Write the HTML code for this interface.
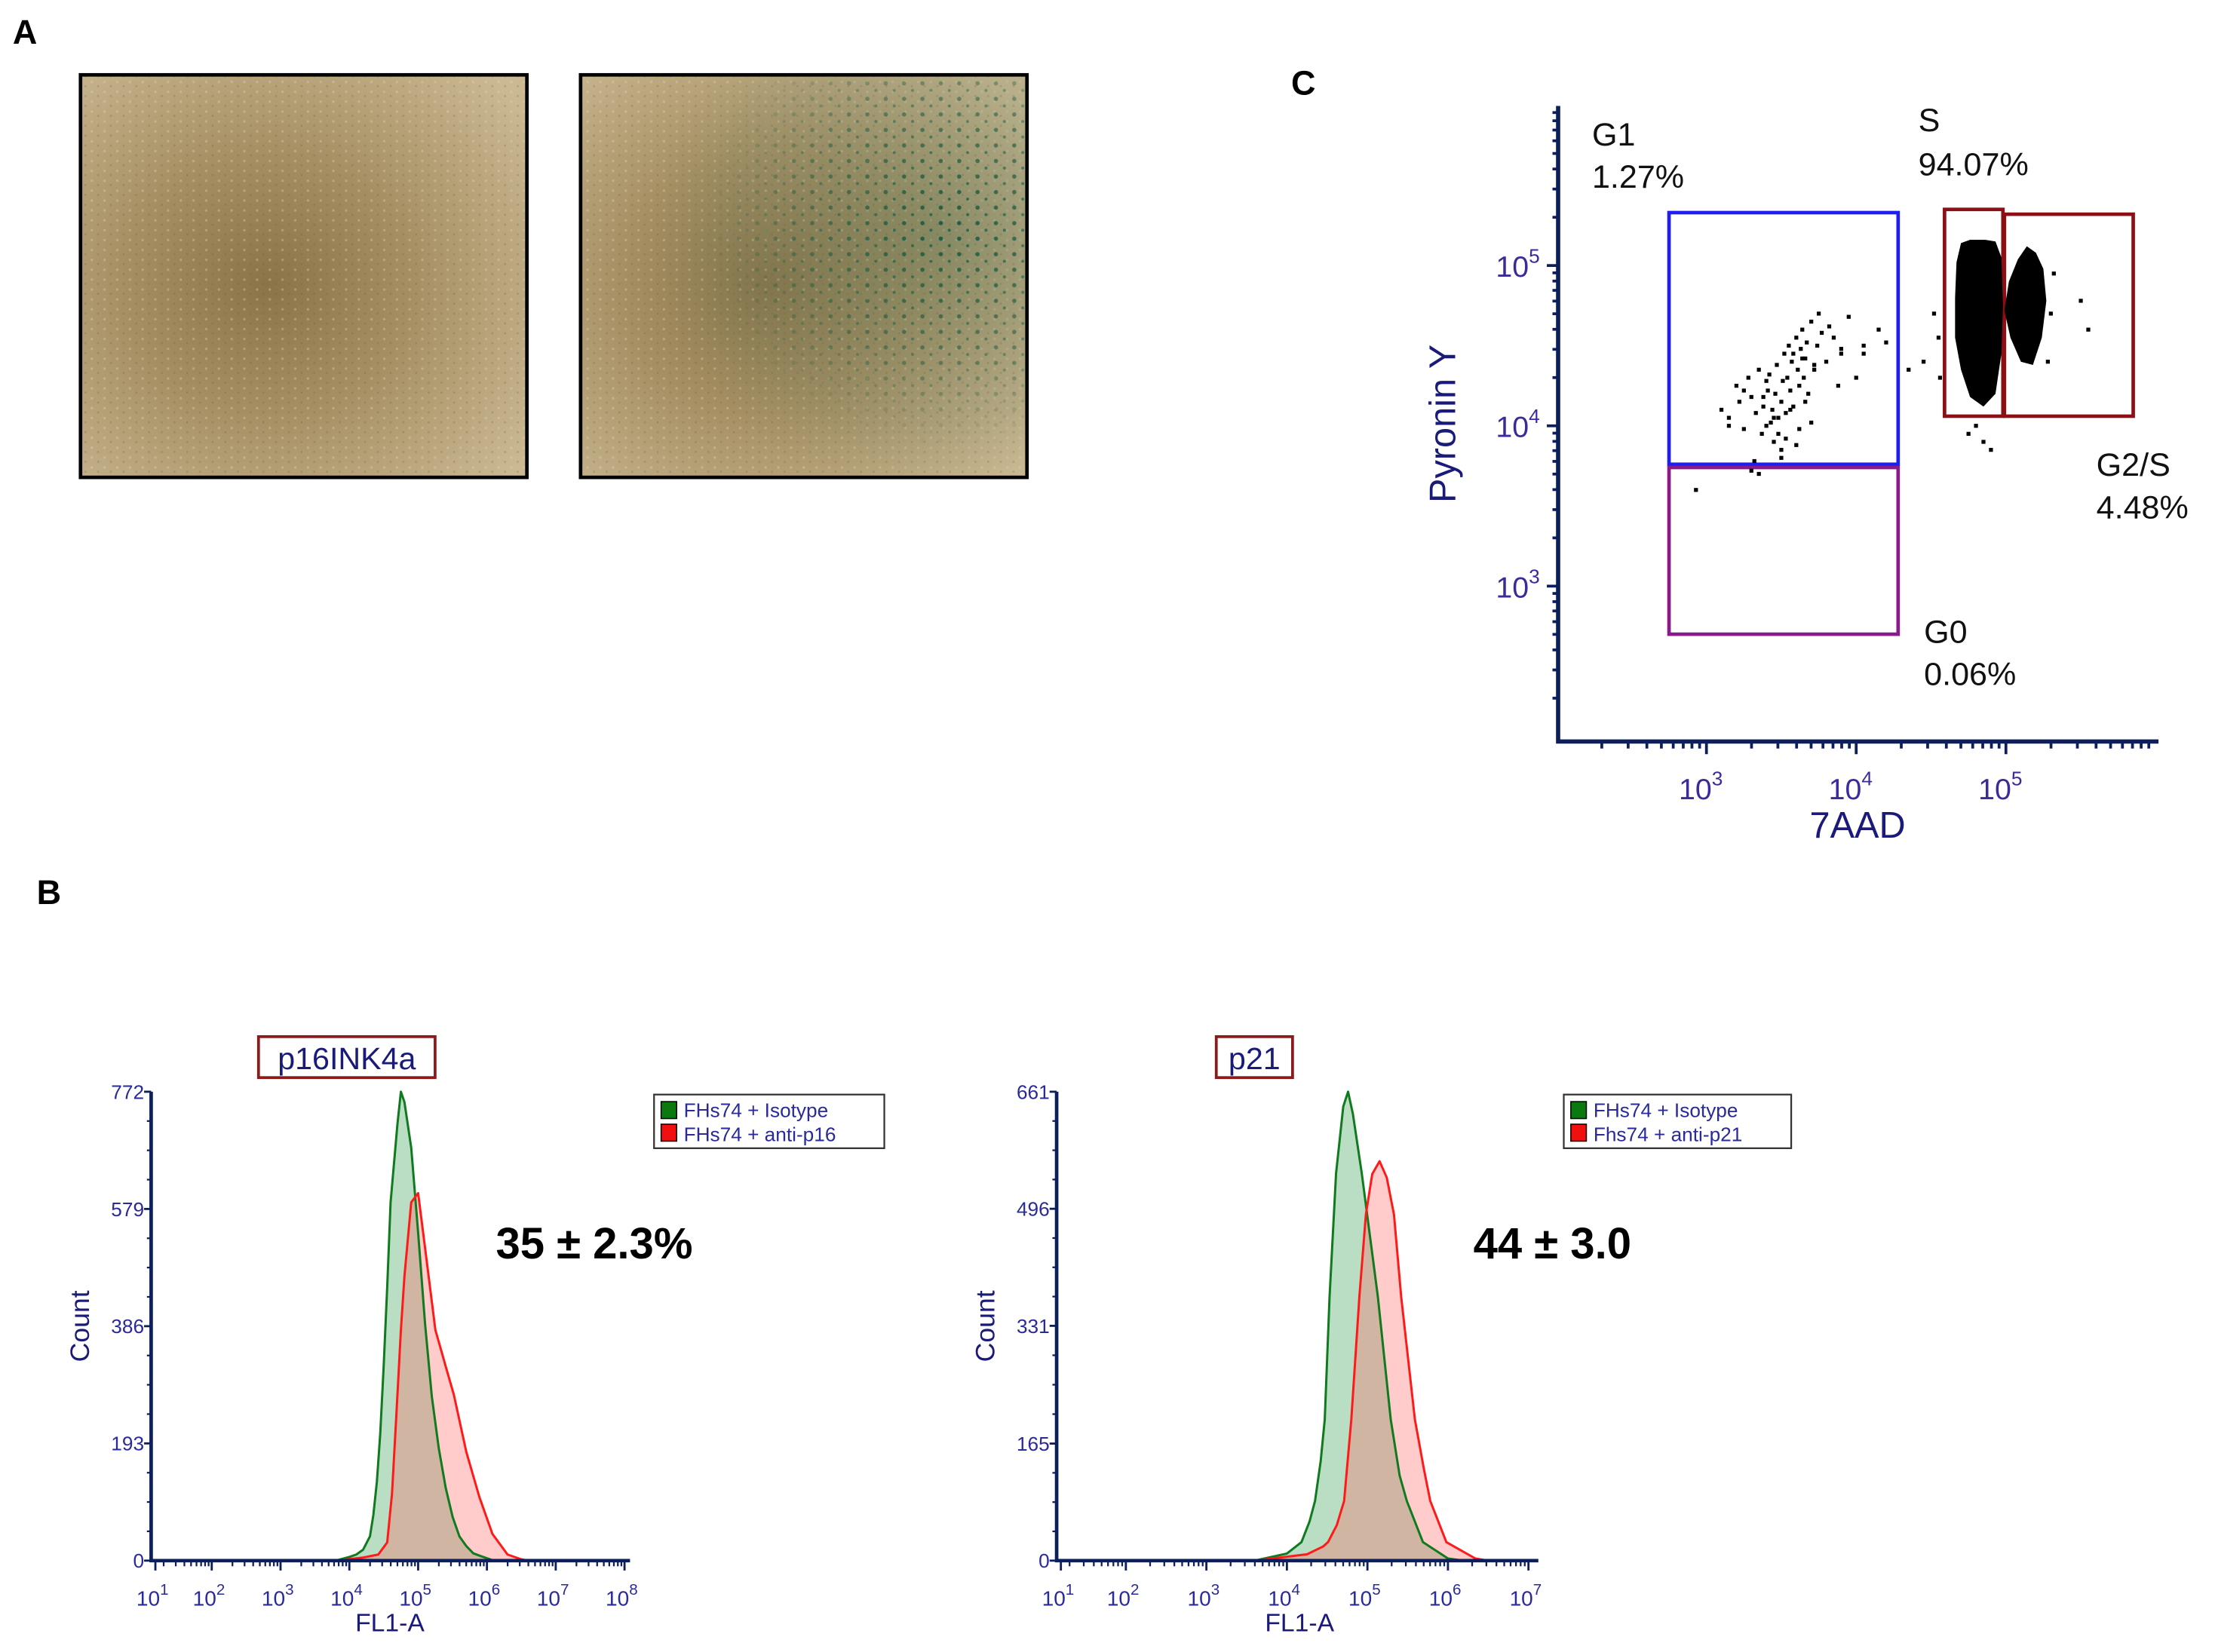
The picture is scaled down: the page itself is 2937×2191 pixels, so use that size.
<!DOCTYPE html>
<html><head><meta charset="utf-8">
<style>
html,body{margin:0;padding:0;background:#fff;}
svg{display:block;}
text{font-family:"Liberation Sans",sans-serif;}
</style></head>
<body>
<svg id="fig" width="2937" height="2191" viewBox="0 0 1568 1169.7" preserveAspectRatio="none" xmlns="http://www.w3.org/2000/svg">
<defs>
<radialGradient id="photoGrad" cx="0.42" cy="0.52" r="0.72">
<stop offset="0" stop-color="#8a7448"/><stop offset="0.45" stop-color="#a68f63"/><stop offset="1" stop-color="#cbb993"/>
</radialGradient>
<radialGradient id="greenGrad" cx="0.8" cy="0.4" r="0.65">
<stop offset="0" stop-color="#3e6e50" stop-opacity="0.35"/><stop offset="0.7" stop-color="#5d7f62" stop-opacity="0.15"/><stop offset="1" stop-color="#6b8a6a" stop-opacity="0"/>
</radialGradient>
<pattern id="cells" width="9" height="7" patternUnits="userSpaceOnUse">
<circle cx="2" cy="2" r="0.9" fill="#e3d6b6" opacity="0.35"/><circle cx="6.5" cy="5" r="0.8" fill="#6e5c38" opacity="0.25"/>
</pattern>
<pattern id="speck" width="13" height="11" patternUnits="userSpaceOnUse">
<circle cx="3" cy="4" r="1.5" fill="#1a5a40"/><circle cx="9" cy="9" r="1.1" fill="#236448"/>
</pattern>
<radialGradient id="speckMask" cx="0.82" cy="0.38" r="0.55">
<stop offset="0" stop-color="#fff" stop-opacity="0.95"/><stop offset="0.6" stop-color="#fff" stop-opacity="0.5"/><stop offset="1" stop-color="#fff" stop-opacity="0"/>
</radialGradient>
<mask id="m2"><rect x="411" y="53" width="316" height="285" fill="url(#speckMask)"/></mask>
</defs>

<text x="9" y="31" font-size="24" font-weight="bold">A</text>
<text x="26" y="640" font-size="24" font-weight="bold">B</text>
<text x="914" y="67" font-size="24" font-weight="bold">C</text>

<g>
<rect x="57" y="53" width="316" height="285" fill="url(#photoGrad)"/>
<rect x="57" y="53" width="316" height="285" fill="url(#cells)"/>
<rect x="57" y="53" width="316" height="285" fill="none" stroke="#000" stroke-width="2.5"/>
</g>
<g>
<rect x="411" y="53" width="316" height="285" fill="url(#photoGrad)"/>
<rect x="411" y="53" width="316" height="285" fill="url(#cells)"/>
<rect x="411" y="53" width="316" height="285" fill="url(#greenGrad)"/>
<rect x="411" y="53" width="316" height="285" fill="url(#speck)" mask="url(#m2)"/>
<rect x="411" y="53" width="316" height="285" fill="none" stroke="#000" stroke-width="2.5"/>
</g>

<g id="panelC"></g>
<g id="hist1"></g>
<g id="hist2"></g>
</svg>

<script>
const gateNames = ["G1","G0","S","G2/S"];
const gatePercents = ["1.27%","0.06%","94.07%","4.48%"];
const gateG1 = [2.75, 4.28, 3.76, 5.33];
const gateG0 = [2.75, 4.28, 2.70, 3.74];
const gateS = [4.59, 4.98, 4.06, 5.35];
const gateG2 = [4.99, 5.85, 4.06, 5.32];
const cTicks = [3, 4, 5];
const scatterX = [2.93,3.1,3.15,3.2,3.22,3.25,3.28,3.3,3.32,3.33,3.35,3.37,3.38,3.4,3.41,3.42,3.44,3.45,3.46,3.47,3.48,3.5,3.5,3.51,3.52,3.53,3.54,3.55,3.56,3.57,3.58,3.6,3.61,3.62,3.63,3.64,3.65,3.66,3.67,3.68,3.7,3.72,3.74,3.75,3.77,3.8,3.82,3.85,3.88,3.9,3.95,4.0,4.05,4.15,4.2,4.35,4.45,4.52,4.55,4.56,3.15,3.3,3.45,3.5,3.6,3.7,3.38,3.48,3.56,3.62,3.25,3.4,3.53,3.66,3.72,3.58,3.64,3.43,3.35,3.9,4.05,5.32,5.5,5.55,5.3,5.28,4.85,4.9,4.75,4.8];
const scatterY = [3.6,4.1,4.05,4.25,4.15,3.98,4.3,4.18,3.78,4.08,4.35,3.95,4.12,4.0,4.22,4.32,4.1,3.9,4.2,4.38,4.05,3.85,4.15,4.28,4.45,3.92,4.3,4.5,4.22,4.4,4.12,4.55,4.35,4.25,4.48,4.6,4.3,4.42,4.52,4.2,4.65,4.38,4.5,4.7,4.58,4.4,4.62,4.55,4.25,4.48,4.68,4.3,4.45,4.6,4.52,4.35,4.4,4.7,4.55,4.3,4.0,3.72,4.05,3.8,3.88,4.02,4.18,3.95,4.1,3.98,4.22,4.28,4.08,4.15,4.35,4.45,4.42,4.02,3.7,4.45,4.5,4.95,4.78,4.6,4.7,4.4,3.9,3.85,3.95,4.0];
const sBlobX = [4.7,4.76,4.86,4.93,4.97,4.98,4.97,4.93,4.85,4.76,4.7,4.66,4.66,4.67];
const sBlobY = [5.14,5.16,5.16,5.15,5.05,4.75,4.45,4.2,4.12,4.18,4.35,4.55,4.8,5.02];
const g2BlobX = [5.02,5.08,5.14,5.2,5.25,5.27,5.24,5.18,5.1,5.03,4.99];
const g2BlobY = [4.9,5.04,5.12,5.08,4.98,4.78,4.55,4.38,4.4,4.55,4.72];

const p16GreenX = [3.8,4.0,4.1,4.2,4.3,4.35,4.4,4.45,4.5,4.55,4.6,4.7,4.75,4.8,4.9,5.0,5.1,5.2,5.3,5.4,5.5,5.6,5.7,5.8,5.9,6.0,6.1];
const p16GreenY = [0,6,10,18,40,75,130,210,320,450,590,720,772,755,680,540,390,270,185,120,72,40,24,12,8,4,0];
const p16RedX = [3.8,4.2,4.42,4.55,4.62,4.68,4.75,4.8,4.9,5.0,5.1,5.25,5.4,5.52,5.7,5.89,6.08,6.3,6.5,6.6];
const p16RedY = [0,5,10,30,110,232,380,468,590,605,515,380,320,273,179,105,44,10,2,0];
const p16Ticks = [0,193,386,579,772];
const p16Decades = [1,2,3,4,5,6,7,8];

const p21GreenX = [3.6,3.8,4.0,4.18,4.28,4.35,4.42,4.47,4.53,4.61,4.7,4.76,4.82,4.93,5.13,5.29,5.4,5.49,5.69,6.0,6.2];
const p21GreenY = [0,5,10,26,55,84,140,199,372,546,640,661,630,546,372,199,120,84,26,3,0];
const p21RedX = [3.6,4.25,4.45,4.51,4.62,4.71,4.8,4.9,4.98,5.06,5.15,5.24,5.33,5.42,5.59,5.7,5.78,5.98,6.34,6.5];
const p21RedY = [0,9,20,26,50,84,199,372,488,545,563,540,488,372,199,130,84,26,3,0];
const p21Ticks = [0,165,331,496,661];
const p21Decades = [1,2,3,4,5,6,7];

const NS = "http://www.w3.org/2000/svg";
function mk(parent, tag, attrs, text){
  const e = document.createElementNS(NS, tag);
  for (const k in attrs) e.setAttribute(k, attrs[k]);
  if (text !== undefined) e.textContent = text;
  parent.appendChild(e);
  return e;
}

(function(){
  const g = document.getElementById('panelC');
  const X = v => 1208 + (v - 3) * 106;
  const Y = v => 188 - (v - 5) * 113.5;
  const axisCol = "#0c1f5c";
  const ax = mk(g,'path',{d:`M1103 75 L1103 525 L1528 525`,fill:'none',stroke:axisCol,'stroke-width':3});
  
  
  for (let d = 2; d <= 5; d++) for (let m = 1; m <= 9; m++) {
    const v = d + Math.log10(m);
    const y = Y(v);
    if (y < 76 || y > 524) continue;
    mk(g,'line',{x1:1103,x2:1103-(m===1?8:4),y1:y,y2:y,stroke:axisCol,'stroke-width':2});
  }
  for (let d = 2; d <= 5; d++) for (let m = 1; m <= 9; m++) {
    const v = d + Math.log10(m);
    const x = X(v);
    if (x < 1104 || x > 1528) continue;
    mk(g,'line',{x1:x,x2:x,y1:525,y2:525+(m===1?9:5),stroke:axisCol,'stroke-width':2});
  }
  cTicks.forEach(t => {
    const ty = mk(g,'text',{x:1090,y:Y(t)+8,'text-anchor':'end','font-size':21,fill:'#3a2a9c'});
    
    
    ty.textContent = '10';
    mk(ty,'tspan',{dy:-10,'font-size':14},String(t));
    const tx = mk(g,'text',{x:X(t)-4,y:566,'text-anchor':'middle','font-size':21,fill:'#3a2a9c'});
    
    
    tx.textContent = '10';
    mk(tx,'tspan',{dy:-10,'font-size':14},String(t));
  });
  const yt = mk(g,'text',{x:0,y:0,transform:'translate(1030 300) rotate(-90)','text-anchor':'middle','font-size':26,fill:'#1a1a7a'},'Pyronin Y');
  
  
  const xt = mk(g,'text',{x:1315,y:593,'text-anchor':'middle','font-size':26,fill:'#1a1a7a'},'7AAD');
  
  
  const gates = [[gateG1,'#1e1ef0','gate-g1'],[gateG0,'#8a1a8a','gate-g0'],[gateS,'#8b0f14','gate-s'],[gateG2,'#8b0f14','gate-g2s']];
  gates.forEach(([r,c,n]) => {
    const el = mk(g,'rect',{x:X(r[0]),y:Y(r[3]),width:X(r[1])-X(r[0]),height:Y(r[2])-Y(r[3]),fill:'none',stroke:c,'stroke-width':2.5});
    
    
  });
  [[sBlobX,sBlobY,'s-population'],[g2BlobX,g2BlobY,'g2-population']].forEach(([xs,ys,n]) => {
    const d = xs.map((v,i)=>(i?'L':'M')+X(v).toFixed(1)+' '+Y(ys[i]).toFixed(1)).join(' ')+'Z';
    const p = mk(g,'path',{d:d,fill:'#000'});
    
    
  });
  scatterX.forEach((v,i) => {
    const r = mk(g,'rect',{x:X(v)-1.4,y:Y(scatterY[i])-1.4,width:2.8,height:2.8,fill:'#000'});
    
    
  });
  const labs = [[1127,103,0,0],[1127,133,0,1],[1358,93,2,0],[1358,124,2,1],[1484,337,3,0],[1484,367,3,1],[1362,455,1,0],[1362,485,1,1]];
  labs.forEach(([x,y,gi,k]) => {
    const t = mk(g,'text',{x:x,y:y,'font-size':23,fill:'#111'}, k===0?gateNames[gi]:gatePercents[gi]);
    
    
  });
})();

function drawHist(gid, o){
  const g = document.getElementById(gid);
  const X = v => o.x5 + (v - 5) * o.dec;
  const Y = c => o.yBot - c / o.max * (o.yBot - o.yTop);
  const axisCol = "#0c1f5c";
  const series = [[o.gx,o.gy,'#2e9a48','#0f7a1e','green'],[o.rx,o.ry,'#ff6060','#ff1a1a','red']];
  series.forEach(([xs,ys,fc,sc,nm]) => {
    const pts = xs.map((v,i)=>X(v).toFixed(1)+' '+Y(ys[i]).toFixed(1));
    const f = mk(g,'path',{d:'M'+X(xs[0])+' '+o.yBot+' L'+pts.join(' L')+' L'+X(xs[xs.length-1])+' '+o.yBot+' Z',fill:fc,'fill-opacity':0.33});
    
    
  });
  series.forEach(([xs,ys,fc,sc,nm]) => {
    const pts = xs.map((v,i)=>X(v).toFixed(1)+' '+Y(ys[i]).toFixed(1));
    const l = mk(g,'path',{d:'M'+pts.join(' L'),fill:'none',stroke:sc,'stroke-width':1.6,'stroke-linejoin':'round'});
    
    
  });
  const ax = mk(g,'path',{d:`M${o.axL} ${o.yTop} L${o.axL} ${o.yBot} L${o.axR} ${o.yBot}`,fill:'none',stroke:axisCol,'stroke-width':2.5});
  
  
  o.ticks.forEach((t,i) => {
    const y = Y(t);
    mk(g,'line',{x1:o.axL,x2:o.axL-5,y1:y,y2:y,stroke:axisCol,'stroke-width':1.5});
    const tl = mk(g,'text',{x:o.axL-5,y:y+5,'text-anchor':'end','font-size':14,fill:'#2a2a9a','font-family':'Liberation Serif, serif'},String(t));
    
    
    if (i < o.ticks.length-1) for (let k=1;k<4;k++){
      const ym = Y(t + (o.ticks[i+1]-t)*k/4);
      mk(g,'line',{x1:o.axL,x2:o.axL-3,y1:ym,y2:ym,stroke:axisCol,'stroke-width':1.2});
    }
  });
  o.decades.forEach((d,i) => {
    const x = Math.max(X(d), o.axL+3);
    mk(g,'line',{x1:x,x2:x,y1:o.yBot,y2:o.yBot+7,stroke:axisCol,'stroke-width':1.5});
    if (i < o.decades.length-1) for (let m=2;m<=9;m++){
      const xm = X(d+Math.log10(m));
      if (xm <= o.axL+3) continue;
      mk(g,'line',{x1:xm,x2:xm,y1:o.yBot,y2:o.yBot+4,stroke:axisCol,'stroke-width':1.2});
    }
    const tl = mk(g,'text',{x:x-2,y:o.yBot+32,'text-anchor':'middle','font-size':15,fill:'#2a2a9a','font-family':'Liberation Serif, serif'});
    
    
    tl.textContent = '10';
    mk(tl,'tspan',{dy:-8,'font-size':11},String(d));
  });
  const xt = mk(g,'text',{x:o.xTitle,y:o.yBot+50,'text-anchor':'middle','font-size':18,fill:'#1a1a7a'},'FL1-A');
  
  
  const yt = mk(g,'text',{x:0,y:0,transform:`translate(${o.axL-44} 939) rotate(-90)`,'text-anchor':'middle','font-size':19,fill:'#1a1a7a'},'Count');
  
  
  const tb = mk(g,'rect',{x:o.tbx,y:734,width:o.tbw,height:29,fill:'#fff',stroke:'#8b1a1a','stroke-width':2});
  
  
  const tt = mk(g,'text',{x:o.tbx+o.tbw/2,y:757,'text-anchor':'middle','font-size':22,fill:'#1a1a7a'},o.title);
  
  
  const lg = mk(g,'g',{});
  
  
  mk(lg,'rect',{x:o.lgx,y:775,width:o.lgw,height:38,fill:'#fff',stroke:'#333','stroke-width':1.2});
  mk(lg,'rect',{x:o.lgx+5,y:780,width:11,height:12,fill:'#0a7a10',stroke:'#000','stroke-width':0.8});
  mk(lg,'rect',{x:o.lgx+5,y:796,width:11,height:12,fill:'#f01010',stroke:'#000','stroke-width':0.8});
  const l1 = mk(lg,'text',{x:o.lgx+21,y:791,'font-size':14,fill:'#2a2a9a'},o.leg1);
  
  
  const l2 = mk(lg,'text',{x:o.lgx+21,y:808,'font-size':14,fill:'#2a2a9a'},o.leg2);
  
  
  const st = mk(g,'text',{x:o.statX,y:891,'font-size':31,'font-weight':'bold',fill:'#000'},o.stat);
  
  
}

drawHist('hist1',{x5:296,dec:48.7,yBot:1105,yTop:773,max:772,axL:107,axR:446,
  gx:p16GreenX,gy:p16GreenY,rx:p16RedX,ry:p16RedY,ticks:p16Ticks,decades:p16Decades,
  xTitle:276,tbx:183,tbw:125,title:'p16INK4a',lgx:463,lgw:163,
  leg1:'FHs74 + Isotype',leg2:'FHs74 + anti-p16',statX:351,stat:'35 ± 2.3%'});
drawHist('hist2',{x5:968,dec:57,yBot:1105,yTop:773,max:661,axL:748,axR:1089,
  gx:p21GreenX,gy:p21GreenY,rx:p21RedX,ry:p21RedY,ticks:p21Ticks,decades:p21Decades,
  xTitle:920,tbx:861,tbw:54,title:'p21',lgx:1107,lgw:161,
  leg1:'FHs74 + Isotype',leg2:'Fhs74 + anti-p21',statX:1043,stat:'44 ± 3.0'});
</script>
</body></html>
